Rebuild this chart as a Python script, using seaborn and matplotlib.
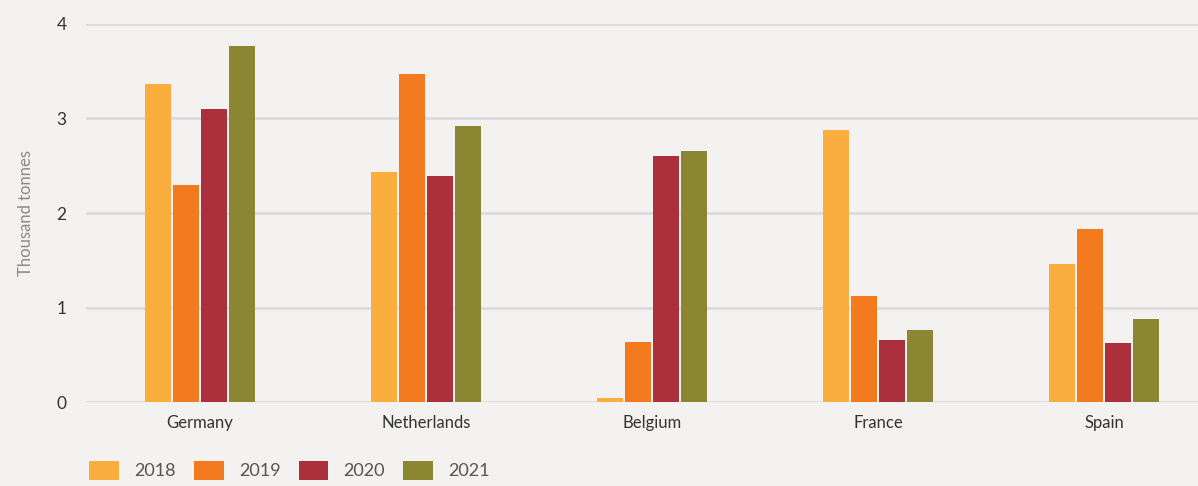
import matplotlib
matplotlib.use("Agg")
import matplotlib.pyplot as plt
import seaborn as sns
import pandas as pd

countries = ["Germany", "Netherlands", "Belgium", "France", "Spain"]
years = ["2018", "2019", "2020", "2021"]
v2018 = [3.37, 2.43, 0.04, 2.88, 1.46]
v2019 = [2.30, 3.47, 0.63, 1.12, 1.83]
v2020 = [3.10, 2.39, 2.60, 0.66, 0.62]
v2021 = [3.77, 2.92, 2.66, 0.76, 0.88]
yticks = [0, 1, 2, 3, 4]
ylabel = "Thousand tonnes"
colors = ["#F9AE3D", "#F47A20", "#AC2F3C", "#8A8632"]

rows = []
for y, vals in zip(years, [v2018, v2019, v2020, v2021]):
    for c, v in zip(countries, vals):
        rows.append({"country": c, "year": y, "value": v})
df = pd.DataFrame(rows)

sns.set_theme(style="white")
plt.rcParams["font.family"] = ["Lato", "DejaVu Sans"]
bg = "#F3F2F0"
fig = plt.figure(figsize=(11.98, 4.86), dpi=100, facecolor=bg)
ax = fig.add_axes([86/1198, 84/486, (1198-86)/1198, (402-24)/486])
ax.set_facecolor(bg)

sns.barplot(data=df, x="country", y="value", hue="year", order=countries,
            hue_order=years, palette=colors, width=0.5, gap=0.08,
            saturation=1, ax=ax, legend=True, edgecolor="none", linewidth=0)

ax.set_xlim(-0.504, 4.416)
ax.set_ylim(0, 4)
ax.set_yticks(yticks)
ax.yaxis.grid(True, color="#DCDCDE", linewidth=2)
ax.set_axisbelow(True)
for s in ax.spines.values():
    s.set_visible(False)
ax.tick_params(axis="both", length=0)
ax.tick_params(axis="y", pad=14, labelsize=12.5, labelcolor="#333333")
ax.tick_params(axis="x", pad=9, labelsize=12, labelcolor="#333333")
ax.set_xlabel("")
ax.set_ylabel(ylabel, color="#8A8A8A", fontsize=12, labelpad=16)

handles, labels = ax.get_legend_handles_labels()
ax.get_legend().remove()
leg = fig.legend(handles, labels, loc="lower left", bbox_to_anchor=(80/1198, -3/486),
                 ncol=4, frameon=False, fontsize=13, handlelength=1.65,
                 handleheight=1.25, handletextpad=0.85, columnspacing=1.0,
                 borderaxespad=0.1)
for t in leg.get_texts():
    t.set_color("#555555")

fig.savefig("out.png", dpi=100, facecolor=bg)
